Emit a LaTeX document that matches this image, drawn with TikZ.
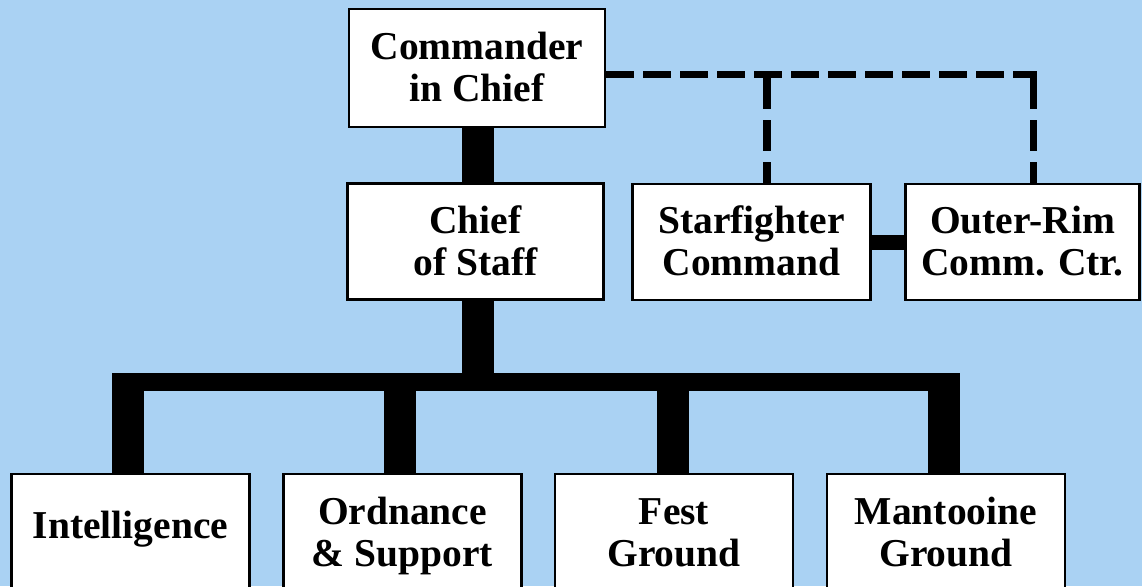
\documentclass[tikz,border=0pt]{standalone}
\usepackage{fontspec}
\setmainfont{Liberation Serif}
\definecolor{bgblue}{RGB}{170,210,243}
\begin{document}
\begin{tikzpicture}[x=1pt,y=-1pt,
  box/.style={draw=black,line width=2.6pt,fill=white,inner sep=0pt,align=center,
    font=\fontsize{39.5}{42}\selectfont\bfseries},
  twoline/.style={text height=75pt,text depth=8pt},
  oneline/.style={text height=27pt,text depth=17pt},
  solidlink/.style={draw=black,line width=32pt,line cap=butt},
  buslink/.style={draw=black,line width=18pt,line cap=butt},
  pairlink/.style={draw=black,line width=15pt,line cap=butt},
  dashh/.style={draw=black,line width=7.5pt,line cap=butt,dash pattern=on 28pt off 9pt},
  dashv/.style={draw=black,line width=7.5pt,line cap=butt,dash pattern=on 31pt off 11pt}]
\useasboundingbox (0,0) rectangle (1142,586);
\fill[bgblue] (0,0) rectangle (1142,586);

% boxes
\node[box,twoline,minimum width=256pt,minimum height=118pt] (cmd) at (477,68) {Commander\\in Chief};
\node[box,twoline,minimum width=256pt,minimum height=116pt] (cos) at (475.5,241.5) {Chief\\of Staff};
\node[box,twoline,minimum width=238pt,minimum height=116pt] (sf) at (751.5,242) {Starfighter\\Command};
\node[box,twoline,minimum width=234pt,minimum height=116pt] (orc) at (1022.5,242) {Outer-Rim\\Comm. Ctr.};
\node[box,oneline,minimum width=238pt,minimum height=118pt] (intel) at (130.5,533) {Intelligence};
\node[box,twoline,minimum width=238pt,minimum height=118pt] (ord) at (402.5,533) {Ordnance\\\& Support};
\node[box,twoline,minimum width=238pt,minimum height=118pt] (fest) at (674,533) {Fest\\Ground};
\node[box,twoline,minimum width=238pt,minimum height=118pt] (mant) at (946,533) {Mantooine\\Ground};

% coordinates for connectors
\coordinate (hub) at (477.5,382);
\coordinate (busL) at (112,382);
\coordinate (busR) at (960,382);
\coordinate (d1) at (128,382);
\coordinate (d2) at (400,382);
\coordinate (d3) at (672.5,382);
\coordinate (d4) at (944,382);
\coordinate (dj) at (1033.5,74.5);
\coordinate (dk) at (767,74.5);

% solid connectors
\draw[solidlink] (hub |- cmd.south) -- (hub |- cos.north);
\draw[solidlink] (hub |- cos.south) -- (hub);
\draw[buslink] (busL) -- (busR);
\draw[solidlink] (d1) -- (d1 |- intel.north);
\draw[solidlink] (d2) -- (d2 |- ord.north);
\draw[solidlink] (d3) -- (d3 |- fest.north);
\draw[solidlink] (d4) -- (d4 |- mant.north);
\draw[pairlink] (sf.east) -- (orc.west);

% dashed connectors
\draw[dashh] (cmd.east |- dj) -- ([xshift=3.75pt]dj);
\draw[dashv] ([yshift=-3.75pt]dj) -- (dj |- orc.north);
\draw[dashv] ([yshift=-3.75pt]dk) -- (dk |- sf.north);
\end{tikzpicture}
\end{document}
